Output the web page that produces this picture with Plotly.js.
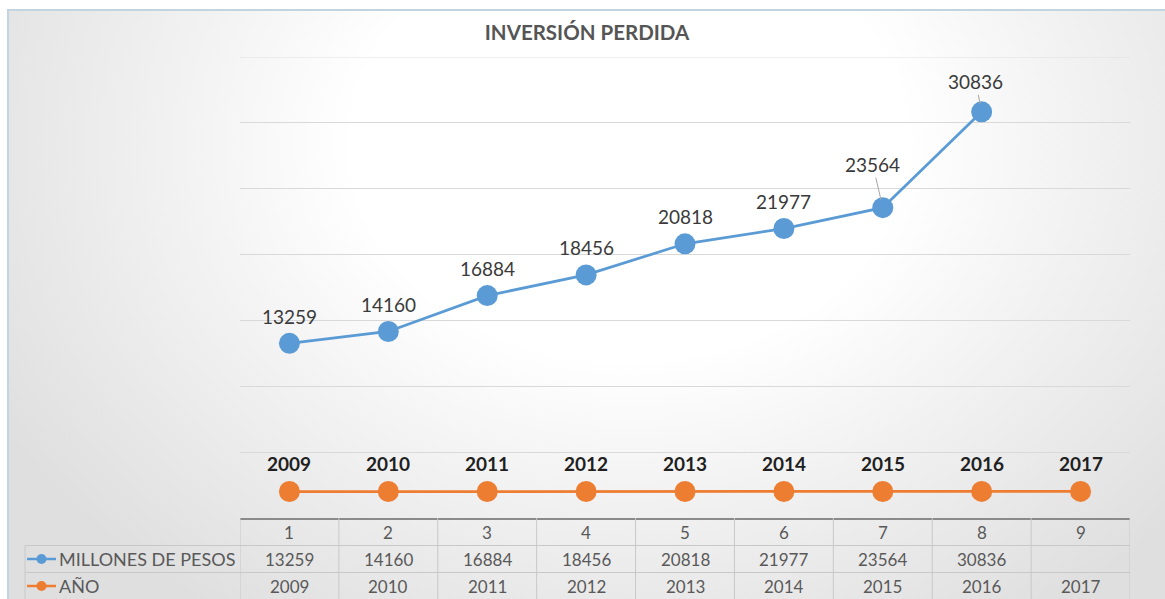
<!DOCTYPE html>
<html>
<head>
<meta charset="utf-8">
<script src="https://cdn.plot.ly/plotly-3.0.1.min.js"></script>
<style>
  html, body { margin: 0; padding: 0; background: #ffffff; overflow: hidden; }
  #bg {
    position: absolute; left: 7px; top: 9px; width: 1170px; height: 600px;
    border-left: 2px solid #c4d3e1; border-top: 2px solid #c4d3e1;
    background: radial-gradient(ellipse 62% 95% at 53% 22%, #ffffff 38%, #f2f2f2 62%, #dfdfdf 100%);
  }
  #chart { position: absolute; left: 0; top: 0; width: 1165px; height: 599px; }
</style>
</head>
<body>
<div id="bg"></div>
<div id="chart"></div>
<script>
// ---- data ----
const categories = [1, 2, 3, 4, 5, 6, 7, 8, 9];
const millones = [13259, 14160, 16884, 18456, 20818, 21977, 23564, 30836, null];
const anio = [2009, 2010, 2011, 2012, 2013, 2014, 2015, 2016, 2017];
const seriesNames = ['MILLONES DE PESOS', 'AÑO'];
const chartTitle = 'INVERSIÓN PERDIDA';

// ---- styling ----
const BLUE = '#5b9bd5', ORANGE = '#ed7d31';
const FONT = 'Lato, "Open Sans", sans-serif';
const W = 1165, H = 599;
const M = {l: 240, r: 35, t: 57, b: 81};
const plotH = H - M.t - M.b;
const plotW = W - M.l - M.r;
const YMAX = 35000;
const py = p => (H - M.b - p) / plotH;      // pixel y -> paper y
const px = p => (p - M.l) / plotW;          // pixel x -> paper x
// label offsets for the two labels with leader lines (index -> [ax, ay])
const leaderOffsets = {6: [-10, -43], 7: [-6, -30]};

const traces = [
  {x: categories, y: millones, name: seriesNames[0], type: 'scatter', mode: 'lines+markers',
   line: {color: BLUE, width: 2.75}, marker: {color: BLUE, size: 21}, connectgaps: false, hoverinfo: 'skip'},
  {x: categories, y: anio, name: seriesNames[1], type: 'scatter', mode: 'lines+markers',
   line: {color: ORANGE, width: 2.75}, marker: {color: ORANGE, size: 21}, hoverinfo: 'skip'}
];

const annotations = [];
millones.forEach((v, i) => {
  if (v === null) return;
  if (leaderOffsets[i]) {
    annotations.push({x: categories[i], y: v, xref: 'x', yref: 'y', text: String(v),
      showarrow: true, arrowhead: 0, arrowwidth: 1, arrowcolor: '#a6a6a6',
      ax: leaderOffsets[i][0], ay: leaderOffsets[i][1], standoff: 8,
      font: {family: FONT, size: 19, color: '#3a3a3a'}});
  } else {
    annotations.push({x: categories[i], y: v, xref: 'x', yref: 'y', text: String(v),
      showarrow: false, yshift: 27, font: {family: FONT, size: 19, color: '#3a3a3a'}});
  }
});
anio.forEach((v, i) => {
  annotations.push({x: categories[i], y: v, xref: 'x', yref: 'y', text: '<b>' + v + '</b>',
    showarrow: false, yshift: 28, font: {family: FONT, size: 19, color: '#1f1f1f'}});
});

// data table
const rowHeader = py(532), rowMill = py(559), rowAnio = py(586);
const tableFont = {family: FONT, size: 17, color: '#595959'};
categories.forEach((c, i) => {
  annotations.push({x: c, y: rowHeader, xref: 'x', yref: 'paper', text: String(c), showarrow: false, yanchor: 'middle', font: tableFont});
  if (millones[i] !== null)
    annotations.push({x: c, y: rowMill, xref: 'x', yref: 'paper', text: String(millones[i]), showarrow: false, yanchor: 'middle', font: tableFont});
  annotations.push({x: c, y: rowAnio, xref: 'x', yref: 'paper', text: String(anio[i]), showarrow: false, yanchor: 'middle', font: tableFont});
});
annotations.push({x: px(57), y: rowMill, xref: 'paper', yref: 'paper', xanchor: 'left', yanchor: 'middle',
  text: seriesNames[0], showarrow: false, font: {family: FONT, size: 18, color: '#595959'}});
annotations.push({x: px(57), y: rowAnio, xref: 'paper', yref: 'paper', xanchor: 'left', yanchor: 'middle',
  text: seriesNames[1], showarrow: false, font: {family: FONT, size: 18, color: '#595959'}});

const GRID = '#c8c8c8';
const shapes = [];
// top gridline (at the range edge)
shapes.push({type: 'line', xref: 'paper', yref: 'y', x0: 0, x1: 1, y0: YMAX, y1: YMAX, line: {color: '#e0e0e0', width: 1}});
// vertical cell lines
for (let k = 0; k <= categories.length; k++) {
  shapes.push({type: 'line', xref: 'x', yref: 'paper', x0: k + 0.5, x1: k + 0.5, y0: 0, y1: py(600),
    line: {color: GRID, width: 1}});
}
// horizontal row lines
shapes.push({type: 'line', xref: 'paper', yref: 'paper', x0: px(25), x1: 1, y0: py(545.5), y1: py(545.5), line: {color: GRID, width: 1}});
shapes.push({type: 'line', xref: 'paper', yref: 'paper', x0: px(25), x1: 1, y0: py(572.5), y1: py(572.5), line: {color: GRID, width: 1}});
shapes.push({type: 'line', xref: 'paper', yref: 'paper', x0: px(25), x1: px(25), y0: py(545.5), y1: py(600), line: {color: GRID, width: 1}});
// legend keys
[[rowMill, BLUE], [rowAnio, ORANGE]].forEach(([y, col]) => {
  shapes.push({type: 'line', xref: 'paper', yref: 'paper', x0: px(27), x1: px(56), y0: y, y1: y, line: {color: col, width: 2.5}});
  shapes.push({type: 'circle', xref: 'paper', yref: 'paper', x0: px(36.5), x1: px(46.5), y0: y - 5 / plotH, y1: y + 5 / plotH,
    fillcolor: col, line: {color: col, width: 0}});
});

const layout = {
  width: W, height: H,
  margin: M,
  paper_bgcolor: 'rgba(0,0,0,0)',
  plot_bgcolor: 'rgba(0,0,0,0)',
  showlegend: false,
  title: {text: '<b>' + chartTitle + '</b>', x: 587 / W, xref: 'container', xanchor: 'center',
    y: 1 - 33 / H, yref: 'container', yanchor: 'middle',
    font: {family: FONT, size: 20.5, color: '#555555'}},
  xaxis: {range: [0.5, 9.5], showticklabels: false, showgrid: false, zeroline: false,
    showline: true, linecolor: '#8a8a8a', linewidth: 2, ticks: '', fixedrange: true},
  yaxis: {range: [0, YMAX], dtick: 5000, tick0: 0, showticklabels: false, showgrid: true,
    gridcolor: '#d9d9d9', gridwidth: 1, zeroline: false, showline: false, ticks: '', fixedrange: true},
  annotations: annotations,
  shapes: shapes
};

Plotly.newPlot('chart', traces, layout, {displayModeBar: false, staticPlot: true});
</script>
</body>
</html>
